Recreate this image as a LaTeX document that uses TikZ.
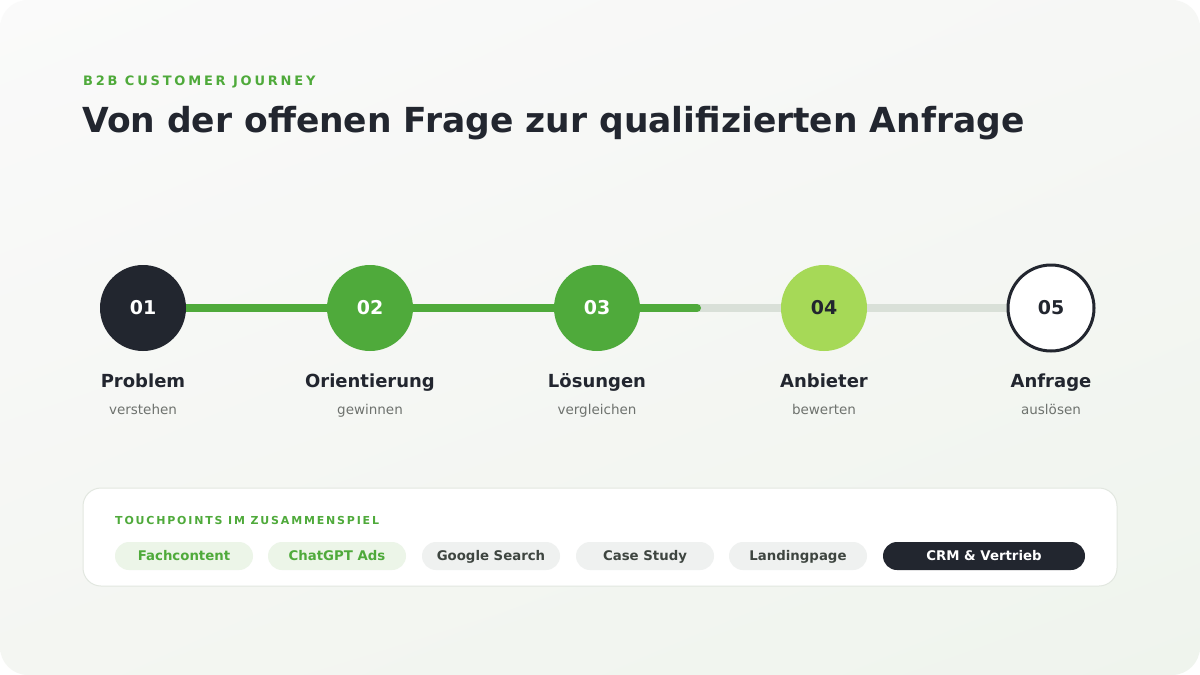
\documentclass[tikz,border=0pt]{standalone}
\usepackage{fontspec}
\setmainfont{DejaVu Sans}
\usetikzlibrary{shadings}
\definecolor{ink}{HTML}{22262F}
\definecolor{green}{HTML}{4FAA3B}
\definecolor{lgreen}{HTML}{A6D957}
\definecolor{track}{HTML}{D9E0D8}
\definecolor{subgray}{HTML}{6E726E}
\definecolor{pillgreen}{HTML}{ECF5E8}
\definecolor{pillgray}{HTML}{EFF1F0}
\definecolor{pilltext}{HTML}{3E4540}
\definecolor{cardline}{HTML}{E2E7E0}
\definecolor{bgA}{HTML}{FAFAFA}
\definecolor{bgB}{HTML}{F6F7F5}
\definecolor{bgC}{HTML}{F4F6F2}
\definecolor{bgD}{HTML}{EFF4ED}
\begin{document}
\begin{tikzpicture}[x=1pt,y=-1pt,
  stepnode/.style={circle,minimum size=86pt,inner sep=0pt,font=\fontsize{19}{19}\selectfont\bfseries},
  steptitle/.style={anchor=base,font=\fontsize{18}{18}\selectfont\bfseries,text=ink},
  stepsub/.style={anchor=base,font=\fontsize{13.5}{13.5}\selectfont,text=subgray},
  pill/.style={rounded corners=14pt,minimum height=28pt,inner sep=0pt,text height=10pt,text depth=2pt,font=\fontsize{13.3}{13.3}\selectfont\bfseries},
  pillg/.style={pill,fill=pillgreen,text=green},
  pillx/.style={pill,fill=pillgray,text=pilltext},
  pilld/.style={pill,fill=ink,text=white}]
\useasboundingbox (0,0) rectangle (1200,675);
\fill[white] (0,0) rectangle (1200,675);
\shade[rounded corners=28pt,upper left=bgA,upper right=bgB,lower left=bgC,lower right=bgD] (0,0) rectangle (1200,675);
% heading
\node[anchor=base west,inner sep=0pt,text=green,font=\fontsize{13}{13}\selectfont\bfseries\addfontfeatures{LetterSpace=21.5}] (kicker) at (83,85) {B2B CUSTOMER JOURNEY};
\node[anchor=base west,inner sep=0pt,text=ink,font=\fontsize{34.5}{34.5}\selectfont\bfseries] (title) at (82,132) {Von der offenen Frage zur qualifizierten Anfrage};
% track
\coordinate (trackend) at (697,308);
\draw[track,line width=8pt] (143,308) -- (1051,308);
\draw[green,line width=8pt,line cap=round] (143,308) -- (trackend);
% steps
\node[stepnode,fill=ink,text=white] (s1) at (143,308) {01};
\node[stepnode,fill=green,text=white] (s2) at (370,308) {02};
\node[stepnode,fill=green,text=white] (s3) at (597,308) {03};
\node[stepnode,fill=lgreen,text=ink] (s4) at (824,308) {04};
\node[stepnode,fill=white,draw=ink,line width=3pt,minimum size=86pt,text=ink] (s5) at (1051,308) {05};
\foreach \n/\x/\t/\s in {1/143/Problem/verstehen,2/370/Orientierung/gewinnen,3/597/Lösungen/vergleichen,4/824/Anbieter/bewerten,5/1051/Anfrage/auslösen}{
  \node[steptitle] (t\n) at (\x,387) {\t};
  \node[stepsub] (u\n) at (\x,414) {\s};
}
% card
\draw[fill=white,draw=cardline,line width=1pt,rounded corners=18pt] (83,488) rectangle (1117,586);
\node[anchor=base west,inner sep=0pt,text=green,font=\fontsize{11}{11}\selectfont\bfseries\addfontfeatures{LetterSpace=16.5}] (tp) at (115,524) {TOUCHPOINTS IM ZUSAMMENSPIEL};
\node[pillg,minimum width=138pt] (p1) at (184,556) {Fachcontent};
\node[pillg,minimum width=138pt] (p2) at (337,556) {ChatGPT Ads};
\node[pillx,minimum width=138pt] (p3) at (491,556) {Google Search};
\node[pillx,minimum width=138pt] (p4) at (645,556) {Case Study};
\node[pillx,minimum width=138pt] (p5) at (798,556) {Landingpage};
\node[pilld,minimum width=202pt] (p6) at (984,556) {CRM \& Vertrieb};
\end{tikzpicture}
\end{document}
